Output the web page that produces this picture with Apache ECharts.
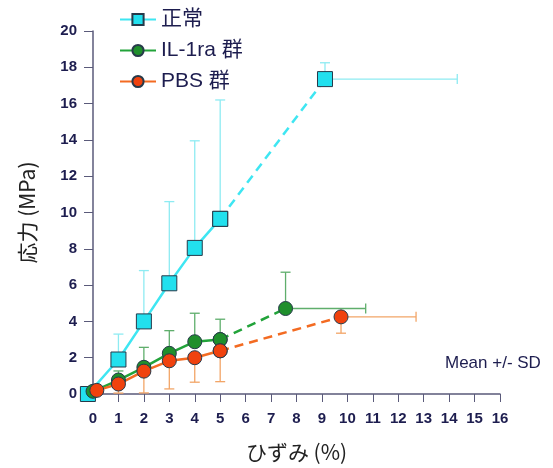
<!DOCTYPE html>
<html>
<head>
<meta charset="utf-8">
<script src="https://cdn.jsdelivr.net/npm/echarts@6/dist/echarts.min.js"></script>
<style>
  html, body { margin: 0; padding: 0; background: #fff; }
  #chart { width: 553px; height: 468px; }
</style>
</head>
<body>
<div id="chart"></div>
<script>
// ひずみ (%) と 応力 (MPa)、Mean +/- SD
var groupNames = ['正常', 'IL-1ra 群', 'PBS 群'];

var normalX = [-0.2, 1, 2, 3, 4, 5, 9.12];
var normalY = [0, 1.9, 4.0, 6.1, 8.05, 9.65, 17.35];
var normalSdY = [0, 1.4, 2.8, 4.5, 5.9, 6.55, 0.9];   // 上向き
var normalSdX = [0, 0, 0, 0, 0, 0, 5.2];

var ilX = [0, 1, 2, 3, 4, 5, 7.57];
var ilY = [0.15, 0.77, 1.47, 2.24, 2.88, 3.0, 4.71];
var ilSdY = [0, 0.5, 1.1, 1.25, 1.57, 1.12, 2.0];     // 上向き
var ilSdX = [0, 0, 0, 0, 0, 0, 3.15];

var pbsX = [0.15, 1, 2, 3, 4, 5, 9.75];
var pbsY = [0.2, 0.55, 1.26, 1.83, 2.0, 2.38, 4.25];
var pbsSdY = [0, 0.5, 1.2, 1.55, 1.35, 1.7, 0.9];     // 下向き
var pbsSdX = [0, 0, 0, 0, 0, 0, 2.95];

var xTicks = { min: 0, max: 16, step: 1 };
var yTicks = { min: 0, max: 20, step: 2 };

var navy = '#1d1d4f';

function pts(xs, ys) {
  return xs.map(function (x, i) { return [x, ys[i]]; });
}

// 誤差棒 (custom series)
function errorSeries(xs, ys, sdY, sdX, dir, color) {
  var data = xs.map(function (x, i) { return [x, ys[i], sdY[i], sdX[i]]; });
  return {
    type: 'custom',
    silent: true,
    clip: false,
    z: 1,
    data: data,
    renderItem: function (params, api) {
      var x = api.value(0), y = api.value(1), ey = api.value(2), ex = api.value(3);
      var p = api.coord([x, y]);
      var kids = [];
      var cap = 5;
      var style = { stroke: color, lineWidth: 1.3 };
      if (ey > 0) {
        var q = api.coord([x, y + dir * ey]);
        kids.push({ type: 'line', shape: { x1: p[0], y1: p[1], x2: q[0], y2: q[1] }, style: style });
        kids.push({ type: 'line', shape: { x1: q[0] - cap, y1: q[1], x2: q[0] + cap, y2: q[1] }, style: style });
      }
      if (ex > 0) {
        var r = api.coord([x + ex, y]);
        kids.push({ type: 'line', shape: { x1: p[0], y1: p[1], x2: r[0], y2: r[1] }, style: style });
        kids.push({ type: 'line', shape: { x1: r[0], y1: r[1] - cap, x2: r[0], y2: r[1] + cap }, style: style });
      }
      return { type: 'group', children: kids };
    }
  };
}

function solid(name, xs, ys, line, fill, symbol, size) {
  return {
    name: name,
    type: 'line',
    z: 3,
    clip: false,
    data: pts(xs.slice(0, 6), ys.slice(0, 6)),
    symbol: symbol,
    symbolSize: size,
    lineStyle: { color: line, width: 2.5 },
    itemStyle: { color: fill, borderColor: '#263a4a', borderWidth: 1 },
    emphasis: { disabled: true }
  };
}

function dashed(name, xs, ys, line, fill, symbol, size) {
  return {
    name: name + '_d',
    type: 'line',
    z: 3,
    clip: false,
    data: pts(xs.slice(5), ys.slice(5)),
    symbol: symbol,
    symbolSize: size,
    lineStyle: { color: line, width: 2.5, type: [9, 6] },
    itemStyle: { color: fill, borderColor: '#263a4a', borderWidth: 1 },
    emphasis: { disabled: true }
  };
}

var chart = echarts.init(document.getElementById('chart'));
chart.setOption({
  backgroundColor: '#fff',
  animation: false,
  grid: { left: 93, right: 53, top: 31, bottom: 73 },
  legend: {
    data: groupNames,
    orient: 'vertical',
    left: 114,
    top: 4,
    itemWidth: 36,
    itemHeight: 14,
    itemGap: 10,
    textStyle: { fontSize: 21, color: navy, fontFamily: 'Liberation Sans, Noto Sans CJK JP, sans-serif' }
  },
  xAxis: {
    type: 'value',
    min: xTicks.min,
    max: xTicks.max,
    interval: xTicks.step,
    name: 'ひずみ (%)',
    nameLocation: 'middle',
    nameGap: 48,
    nameTextStyle: { fontSize: 21, color: '#222', fontFamily: 'Noto Sans CJK JP, sans-serif' },
    splitLine: { show: false },
    axisLine: { lineStyle: { color: '#5a5a7a', width: 1.5 } },
    axisTick: { length: 8, lineStyle: { color: '#5a5a7a' } },
    axisLabel: { color: navy, fontWeight: 'bold', fontSize: 15, margin: 17, fontFamily: 'Liberation Sans, sans-serif' }
  },
  yAxis: {
    type: 'value',
    min: yTicks.min,
    max: yTicks.max,
    interval: yTicks.step,
    name: '応力 (MPa)',
    nameLocation: 'middle',
    nameGap: 55,
    nameTextStyle: { fontSize: 21, color: '#222', fontFamily: 'Noto Sans CJK JP, sans-serif' },
    splitLine: { show: false },
    axisLine: { show: true, lineStyle: { color: '#5a5a7a', width: 1.5 } },
    axisTick: { show: true, length: 9, lineStyle: { color: '#5a5a7a' } },
    axisLabel: { color: navy, fontWeight: 'bold', fontSize: 15, margin: 16, fontFamily: 'Liberation Sans, sans-serif' }
  },
  graphic: [{
    type: 'text',
    left: 445,
    top: 355,
    style: { text: 'Mean +/- SD', fontSize: 17, fill: navy, fontFamily: 'Liberation Sans, sans-serif' }
  }],
  series: [
    errorSeries(normalX, normalY, normalSdY, normalSdX, 1, '#8eebf2'),
    errorSeries(ilX, ilY, ilSdY, ilSdX, 1, '#5fae6c'),
    errorSeries(pbsX, pbsY, pbsSdY, pbsSdX, -1, '#f2a567'),
    solid(groupNames[0], normalX, normalY, '#3ee6f2', '#22e0ee', 'rect', 15),
    dashed(groupNames[0], normalX, normalY, '#3ee6f2', '#22e0ee', 'rect', 15),
    solid(groupNames[1], ilX, ilY, '#22a33a', '#1f8f2c', 'circle', 14),
    dashed(groupNames[1], ilX, ilY, '#22a33a', '#1f8f2c', 'circle', 14),
    solid(groupNames[2], pbsX, pbsY, '#f36b22', '#f0420e', 'circle', 14),
    dashed(groupNames[2], pbsX, pbsY, '#f36b22', '#f0420e', 'circle', 14)
  ]
});
</script>
</body>
</html>
